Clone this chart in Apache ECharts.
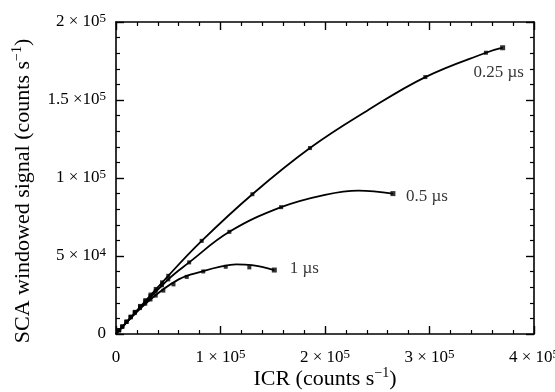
<!DOCTYPE html>
<html>
<head>
<meta charset="utf-8">
<script src="https://cdn.jsdelivr.net/npm/echarts@6/dist/echarts.min.js"></script>
<style>
  html, body { margin: 0; padding: 0; background: #fff; }
  #chart { width: 555px; height: 392px; }
</style>
</head>
<body>
<div id="chart"></div>
<script>
// SCA windowed signal vs input count rate, three shaping times
const FONT = 'Liberation Serif';
const INK = '#000';

// tick labels (mantissa + exponent, drawn as superscript)
const xTickVals = [0, 100000, 200000, 300000, 400000];
const xTickText = ['0', '1 × 10', '2 × 10', '3 × 10', '4 × 10'];
const xTickExp = ['', '5', '5', '5', '5'];
const yTickVals = [0, 50000, 100000, 150000, 200000];
const yTickText = ['0', '5 × 10', '1 × 10', '1.5 ×10', '2 × 10'];
const yTickExp = ['', '4', '5', '5', '5'];

// fitted curves
const curve025 = [[0, 0], [50000, 37300], [82000, 59700], [130500, 89600], [185600, 119200],
  [240000, 143000], [296000, 164700], [354000, 180300], [370000, 183500]];
const curve05 = [[0, 0], [50000, 35000], [70000, 45900], [108500, 65500], [158000, 81300],
  [200000, 89200], [232000, 91900], [265000, 90000]];
const curve1 = [[0, 0], [30000, 20500], [60000, 35000], [83500, 40300], [100000, 43200],
  [115000, 44600], [130000, 44100], [151500, 41000]];

// measured points
const pts025 = [[3000, 2400], [6000, 4800], [10000, 8000], [14000, 11100], [18000, 14200],
  [23000, 18000], [28000, 21700], [33000, 25300], [38000, 28900], [44000, 33100], [50000, 37300],
  [82000, 59700], [130500, 89600], [185600, 119200], [296000, 164700], [354000, 180300], [370000, 183500]];
const pts05 = [[3000, 2400], [6000, 4800], [10000, 7900], [14000, 11000], [18000, 14000],
  [23000, 17600], [28000, 21000], [33000, 24300], [38000, 27400], [44000, 31200], [50000, 35000],
  [70000, 45900], [108500, 65500], [158000, 81300], [265000, 90000]];
const pts1 = [[3000, 2400], [6000, 4700], [10000, 7700], [14000, 10600], [18000, 13400],
  [23000, 16600], [28000, 19400], [33000, 22100], [38000, 24600], [45300, 27800], [55000, 31800],
  [67700, 36600], [83500, 40100], [105000, 43100], [127600, 42700], [151500, 41000]];

const seriesNames = ['0.25 µs', '0.5 µs', '1 µs'];

const rich = {
  b: { fontFamily: FONT, fontSize: 17, color: INK, lineHeight: 20, verticalAlign: 'middle' },
  s: { fontFamily: FONT, fontSize: 13, color: INK, lineHeight: 20, verticalAlign: 'top' },
};
const nameRich = {
  b: { fontFamily: FONT, fontSize: 22, color: INK, lineHeight: 26, verticalAlign: 'middle' },
  s: { fontFamily: FONT, fontSize: 14, color: INK, lineHeight: 26, verticalAlign: 'top' },
};

function tickFmt(vals, text, exp) {
  return (v) => {
    const i = vals.indexOf(v);
    if (i < 0) return '';
    return exp[i] ? `{b|${text[i]}}{s|${exp[i]}}` : `{b|${text[i]}}`;
  };
}

// onZero off, otherwise the top/right mirror axes collapse onto bottom/left
const lineAx = () => ({ onZero: false, lineStyle: { color: INK, width: 1.6 } });
const tickAx = () => ({ inside: true, length: 8, lineStyle: { color: INK, width: 1.4 } });
const minorAx = () => ({ show: true, splitNumber: 5, length: 4, lineStyle: { color: INK, width: 1.2 } });

function curveSeries(data) {
  return {
    type: 'line', data, smooth: 0.4, showSymbol: false, silent: true,
    lineStyle: { color: INK, width: 1.8 },
  };
}

// name label hangs off the last measured point
function pointSeries(data, name, offset) {
  const last = data.length - 1;
  return {
    type: 'scatter', symbol: 'rect', symbolSize: (v, p) => (p.dataIndex === last ? 5 : 4),
    itemStyle: { color: INK },
    data: data.map((d, i) => (i === last ? {
      value: d,
      label: {
        show: true, position: 'inside', offset, formatter: name,
        fontFamily: FONT, fontSize: 17, color: INK,
      },
    } : d)),
  };
}

const chart = echarts.init(document.getElementById('chart'));
chart.setOption({
  animation: false,
  backgroundColor: '#fff',
  grid: { left: 116, right: 21, top: 22, bottom: 58, outerBoundsMode: 'none' },
  xAxis: [{
    type: 'value', min: 0, max: 400000, interval: 100000, position: 'bottom',
    axisLine: lineAx(), axisTick: tickAx(), minorTick: minorAx(),
    splitLine: { show: false }, minorSplitLine: { show: false },
    axisLabel: { margin: 14, formatter: tickFmt(xTickVals, xTickText, xTickExp), rich },
    name: '{b|ICR (counts s}{s|−1}{b|)}', nameLocation: 'middle', nameGap: 32,
    nameMoveOverlap: false,
    nameTextStyle: { rich: nameRich },
  }, {
    type: 'value', min: 0, max: 400000, interval: 100000, position: 'top',
    axisLine: lineAx(), axisTick: tickAx(), minorTick: minorAx(),
    splitLine: { show: false }, axisLabel: { show: false },
  }],
  yAxis: [{
    type: 'value', min: 0, max: 200000, interval: 50000, position: 'left',
    axisLine: lineAx(), axisTick: tickAx(), minorTick: minorAx(),
    splitLine: { show: false }, minorSplitLine: { show: false },
    axisLabel: { margin: 10, formatter: tickFmt(yTickVals, yTickText, yTickExp), rich },
    name: '{b|SCA windowed signal (counts s}{s|−1}{b|)}', nameLocation: 'middle', nameGap: 80,
    nameTextStyle: { rich: nameRich, padding: [0, 0, 0, -26] },
  }, {
    type: 'value', min: 0, max: 200000, interval: 50000, position: 'right',
    axisLine: lineAx(), axisTick: tickAx(), minorTick: minorAx(),
    splitLine: { show: false }, axisLabel: { show: false },
  }],
  series: [
    curveSeries(curve025),
    curveSeries(curve05),
    curveSeries(curve1),
    pointSeries(pts025, seriesNames[0], [-4, 25]),
    pointSeries(pts05, seriesNames[1], [34, 3]),
    pointSeries(pts1, seriesNames[2], [30, -2]),
  ],
});
</script>
</body>
</html>
